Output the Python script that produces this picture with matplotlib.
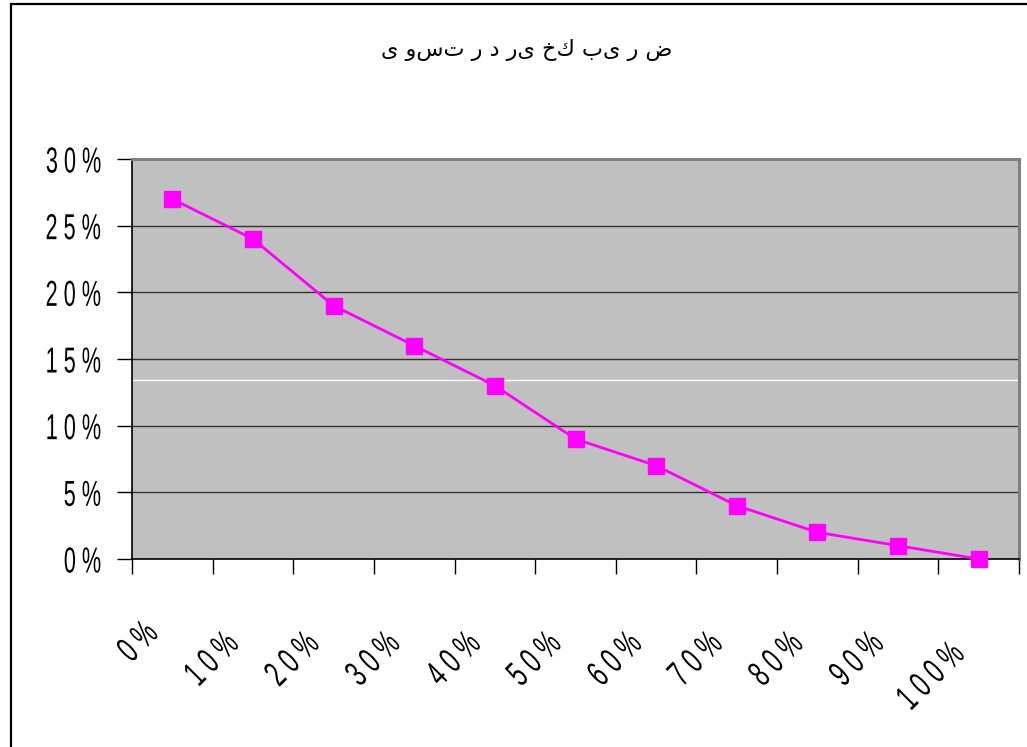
import matplotlib
matplotlib.use("Agg")
import matplotlib.pyplot as plt
from matplotlib.patches import Rectangle
from matplotlib.patheffects import AbstractPathEffect
from matplotlib.transforms import Affine2D
from matplotlib.ticker import FixedLocator, FuncFormatter

# Data
title_text = "ی وست ر د ری خك بی ر ض"
categories = ["0%", "10%", "20%", "30%", "40%", "50%", "60%", "70%", "80%", "90%", "100%"]
values = [27, 24, 19, 16, 13, 9, 7, 4, 2, 1, 0]
y_ticks = [0, 5, 10, 15, 20, 25, 30]


def spaced(s):
    return " ".join(list(s))


class Condensed(AbstractPathEffect):
    """Squeeze glyphs horizontally, keeping the right end of the text fixed."""

    def __init__(self, sx):
        super().__init__()
        self.sx = sx

    def draw_path(self, renderer, gc, tpath, affine, rgbFace=None):
        x1 = tpath.get_extents().x1
        squeeze = Affine2D().translate(-x1, 0).scale(self.sx, 1).translate(x1, 0)
        renderer.draw_path(gc, tpath, squeeze + affine, rgbFace)


W, H = 1027, 747
fig = plt.figure(figsize=(W / 100, H / 100), dpi=100)
fig.patch.set_facecolor("white")

# outer chart-area frame
fig.add_artist(Rectangle((11 / W, -0.05), 1.2, 1 - 4 / H + 0.05,
                         transform=fig.transFigure, fill=False,
                         edgecolor="black", linewidth=1.6, clip_on=False))

ax = fig.add_axes([132 / W, 1 - 559 / H, (1019 - 132) / W, (559 - 159) / H])
ax.set_facecolor("#C0C0C0")

x = list(range(len(categories)))
ax.set_xlim(-0.5, len(categories) - 0.5)
ax.set_ylim(0, 30)

for t in y_ticks[1:-1]:
    ax.axhline(t, color="#333333", linewidth=1.0, zorder=1)
ax.axhline(13.4, color="white", linewidth=1.0, zorder=1)

ax.plot(x, values, color="#FF00FF", linewidth=2, marker="s", markersize=11,
        markerfacecolor="#FF00FF", markeredgecolor="#FF00FF", zorder=3,
        clip_on=False)

# spines
for side in ("top", "right"):
    ax.spines[side].set_color("#808080")
    ax.spines[side].set_linewidth(2.2)
for side in ("left", "bottom"):
    ax.spines[side].set_color("black")
    ax.spines[side].set_linewidth(1.2)

label_font = dict(family="Liberation Sans", size=26)

# y axis
ax.yaxis.set_major_locator(FixedLocator(y_ticks))
ax.yaxis.set_major_formatter(FuncFormatter(lambda v, p: spaced(f"{int(round(v))}%")))
ax.tick_params(axis="y", direction="out", length=11, width=1, pad=11,
               color="black")
for lab in ax.get_yticklabels():
    lab.set_fontproperties(label_font)
    lab.set_path_effects([Condensed(0.6)])

# x axis: ticks at category boundaries, labels under category centers
ax.set_xticks([i - 0.5 for i in range(len(categories) + 1)])
ax.set_xticklabels([])
ax.tick_params(axis="x", direction="out", length=11, width=1, color="black")
for i, c in enumerate(categories):
    drop = 7.5 * (len(c) - 2)
    ax.annotate(spaced(c), xy=(i, 0), xycoords=("data", "axes fraction"),
                xytext=(-5, -41 - drop), textcoords="offset points",
                rotation=45, ha="right", va="top",
                fontproperties=label_font, path_effects=[Condensed(0.64)],
                annotation_clip=False)

fig.text(527 / W, 1 - 50 / H, title_text, ha="center", va="center",
         fontsize=16, family=["DejaVu Sans"])

fig.savefig("out.png", dpi=100, facecolor="white")
